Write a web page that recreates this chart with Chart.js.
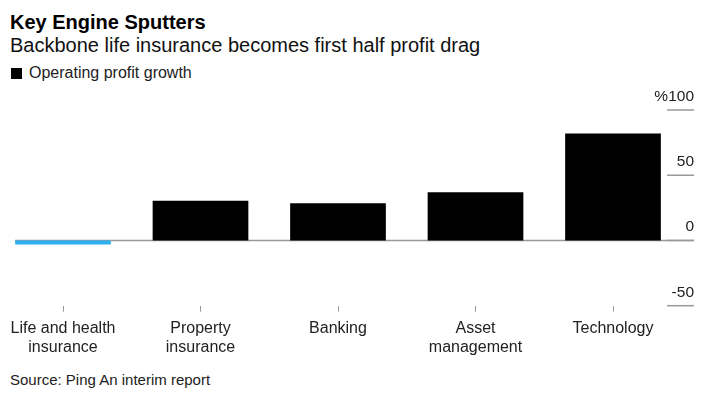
<!DOCTYPE html>
<html>
<head>
<meta charset="utf-8">
<script src="https://cdn.jsdelivr.net/npm/chart.js@4.4.1/dist/chart.umd.min.js"></script>
<style>
  html, body { margin: 0; padding: 0; background: #fff; }
  body { width: 716px; height: 394px; position: relative; overflow: hidden; font-family: "Liberation Sans", Arial, sans-serif; color: #222; }
  .title { position: absolute; left: 10px; top: 11px; font-size: 20px; font-weight: bold; color: #000; }
  .subtitle { position: absolute; left: 10px; top: 34px; font-size: 20px; color: #111; }
  .legend { position: absolute; left: 11px; top: 64px; font-size: 16px; color: #222; }
  .legend .sq { display: inline-block; width: 11px; height: 11px; background: #000; margin-right: 7px; vertical-align: -1px; }
  .source { position: absolute; left: 10px; top: 371px; font-size: 15px; color: #222; }
  #wrap { position: absolute; left: -20px; top: 0; width: 736px; height: 394px; }
</style>
</head>
<body>
<div class="title">Key Engine Sputters</div>
<div class="subtitle">Backbone life insurance becomes first half profit drag</div>
<div class="legend"><span class="sq"></span>Operating profit growth</div>
<div class="source">Source: Ping An interim report</div>
<div id="wrap"><canvas id="chart"></canvas></div>

<script>
// data
const categories = [
  ['Life and health', 'insurance'],
  ['Property', 'insurance'],
  'Banking',
  ['Asset', 'management'],
  'Technology'
];
const profitGrowth = [-3, 30.5, 28.5, 37, 82];
const yTicks = [100, 50, 0, -50];
const yTickLabels = ['%100', '50', '0', '-50'];

const barColors = profitGrowth.map(v => v < 0 ? '#2db0f0' : '#000000');

// right side tick dashes + labels, zero line
const axisDecor = {
  id: 'axisDecor',
  beforeDatasetsDraw(chart) {
    const { ctx } = chart;
    const y = chart.scales.y;
    const first = chart.getDatasetMeta(0).data[0];
    const y0 = y.getPixelForValue(0);
    ctx.save();
    ctx.strokeStyle = '#999';
    ctx.lineWidth = 1.5;
    ctx.beginPath();
    ctx.moveTo(first.x - first.width / 2, y0);
    ctx.lineTo(714, y0);
    ctx.stroke();
    ctx.restore();
  },
  afterDatasetsDraw(chart) {
    const { ctx } = chart;
    const y = chart.scales.y;
    ctx.save();
    ctx.strokeStyle = '#999';
    ctx.lineWidth = 1.5;
    ctx.fillStyle = '#222';
    ctx.font = '15.5px "Liberation Sans", Arial, sans-serif';
    ctx.textAlign = 'right';
    ctx.textBaseline = 'alphabetic';
    yTicks.forEach((v, i) => {
      const py = y.getPixelForValue(v);
      ctx.beginPath();
      ctx.moveTo(687, py);
      ctx.lineTo(714, py);
      ctx.stroke();
      ctx.fillText(yTickLabels[i], 714, py - 9);
    });
    ctx.restore();
  }
};

const ctx = document.getElementById('chart').getContext('2d');
new Chart(ctx, {
  type: 'bar',
  data: {
    labels: categories,
    datasets: [{
      label: 'Operating profit growth',
      data: profitGrowth,
      backgroundColor: barColors,
      borderWidth: 0,
      categoryPercentage: 1,
      barPercentage: 0.696
    }]
  },
  options: {
    responsive: true,
    maintainAspectRatio: false,
    animation: false,
    layout: { padding: { left: 14.25, right: 34.25, top: 110, bottom: 0 } },
    plugins: {
      legend: { display: false },
      tooltip: { enabled: false }
    },
    scales: {
      x: {
        afterFit: s => { s.height = 88.3; },
        border: { display: false },
        grid: {
          offset: false,
          drawOnChartArea: false,
          drawTicks: true,
          tickLength: 6,
          color: '#999',
          lineWidth: 1
        },
        ticks: {
          autoSkip: false,
          maxRotation: 0,
          padding: 7,
          color: '#222',
          font: { family: '"Liberation Sans", Arial, sans-serif', size: 16, lineHeight: 1.2 }
        }
      },
      y: {
        display: false,
        min: -50,
        max: 100
      }
    }
  },
  plugins: [axisDecor]
});
</script>
</body>
</html>
